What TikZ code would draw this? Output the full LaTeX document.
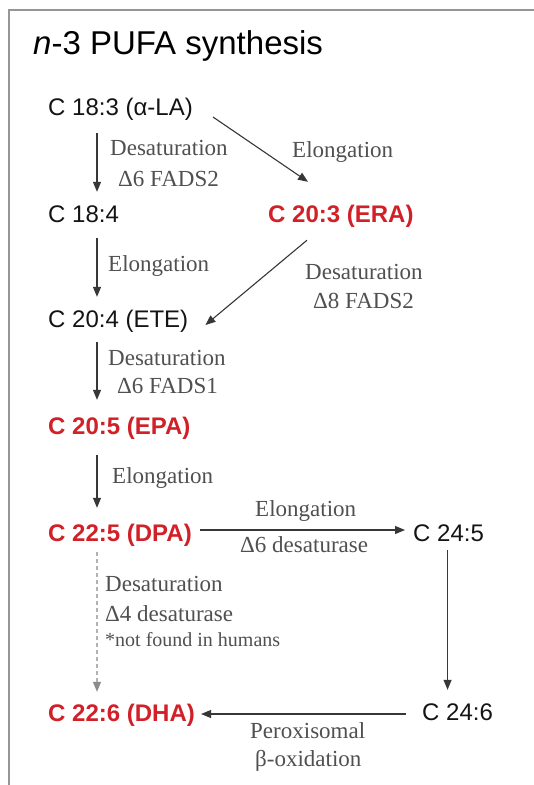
\documentclass[tikz,border=0pt]{standalone}
\usepackage{fontspec}
\setmainfont{Liberation Serif}
\newfontfamily\sansf{Liberation Sans}
\usetikzlibrary{arrows.meta}
\definecolor{fared}{RGB}{210,32,40}
\definecolor{lblgray}{RGB}{80,80,80}
\definecolor{arrgray}{RGB}{55,55,55}
\definecolor{framegray}{RGB}{150,150,150}
\tikzset{
  fa/.style={inner sep=0pt, anchor=base west, text height=17pt, text depth=5pt,
    font=\sansf\fontsize{24}{28}\selectfont, text=black!92},
  fahl/.style={fa, text=fared, font=\sansf\bfseries\fontsize{24}{28}\selectfont},
  lbl/.style={inner sep=0pt, anchor=base west, text=lblgray, font=\fontsize{23}{27}\selectfont},
  note/.style={lbl, font=\fontsize{20}{24}\selectfont},
  arr/.style={draw=arrgray, line width=1.1pt, -{Triangle[length=10pt,width=8pt]}},
  darr/.style={draw=black!30, line width=1.1pt, dash pattern=on 4pt off 3pt,
    -{Triangle[length=10pt,width=8pt,color=black!45,fill=black!45]}}
}
\begin{document}
\begin{tikzpicture}[x=1pt,y=-1pt]
\useasboundingbox (0,0) rectangle (534,785);
\fill[white] (0,0) rectangle (534,785);
\draw[framegray, line width=2.5pt] (9,786) -- (9,10) -- (535,10);

\node[inner sep=0pt, anchor=base west, font=\sansf\fontsize{33}{38}\selectfont] (title) at (33,54) {\textit{n}-3 PUFA synthesis};

\coordinate (colx) at (97,0);

\node[fa] (c183) at (48,115) {C 18:3 (α-LA)};
\node[fa] (c184) at (48,222) {C 18:4};
\node[fahl] (era) at (268,222) {C 20:3 (ERA)};
\node[fa] (ete) at (48,327) {C 20:4 (ETE)};
\node[fahl] (epa) at (48,434) {C 20:5 (EPA)};
\node[fahl] (dpa) at (48,541) {C 22:5 (DPA)};
\node[fa] (c245) at (413,541) {C 24:5};
\node[fahl] (dha) at (48,721) {C 22:6 (DHA)};
\node[fa] (c246) at (422,720) {C 24:6};

% labels
\node[lbl] (l1a) at (110,155) {Desaturation};
\node[lbl] (l1b) at (118,186) {Δ6 FADS2};
\node[lbl] (l2) at (292,157) {Elongation};
\node[lbl] (l3) at (108,271) {Elongation};
\node[lbl] (l4a) at (305,279) {Desaturation};
\node[lbl] (l4b) at (313,308) {Δ8 FADS2};
\node[lbl] (l5a) at (108,365) {Desaturation};
\node[lbl] (l5b) at (117,393) {Δ6 FADS1};
\node[lbl] (l6) at (112,483) {Elongation};
\node[lbl] (l7a) at (255,516) {Elongation};
\node[lbl] (l7b) at (240,552) {Δ6 desaturase};
\node[lbl] (l8a) at (105,591) {Desaturation};
\node[lbl] (l8b) at (105,621) {Δ4 desaturase};
\node[note] (l8c) at (105,646) {*not found in humans};
\node[lbl] (l9a) at (250,738) {Peroxisomal};
\node[lbl] (l9b) at (255,766) {β-oxidation};

% arrows
\draw[arr] ([yshift=-13pt]c183.south -| colx) -- ([yshift=13pt]c184.north -| colx);
\draw[arr] ([xshift=20pt,yshift=-8pt]c183.east) -- ([xshift=40pt,yshift=23pt]era.north west);
\draw[arr] ([yshift=-11pt]c184.south -| colx) -- ([yshift=13pt]ete.north -| colx);
\draw[arr] ([xshift=39pt,yshift=-13pt]era.south west) -- ([xshift=17pt,yshift=-4pt]ete.east);
\draw[arr] ([yshift=-10pt]ete.south -| colx) -- ([yshift=17pt]epa.north -| colx);
\draw[arr] ([yshift=-16pt]epa.south -| colx) -- ([yshift=16pt]dpa.north -| colx);
\draw[arr] ([xshift=8pt,yshift=5pt]dpa.east) -- ([xshift=-8pt,yshift=5pt]c245.west);
\draw[arr] ([xshift=-1pt,yshift=-4pt]c245.south) -- ([xshift=-1pt,yshift=13pt]c245.south |- c246.north);
\draw[arr] ([xshift=-16pt]c246.west) -- ([xshift=6pt,yshift=1pt]dha.east);
\draw[darr] ([yshift=-6pt]dpa.south -| colx) -- ([yshift=12pt]dha.north -| colx);
\end{tikzpicture}
\end{document}
